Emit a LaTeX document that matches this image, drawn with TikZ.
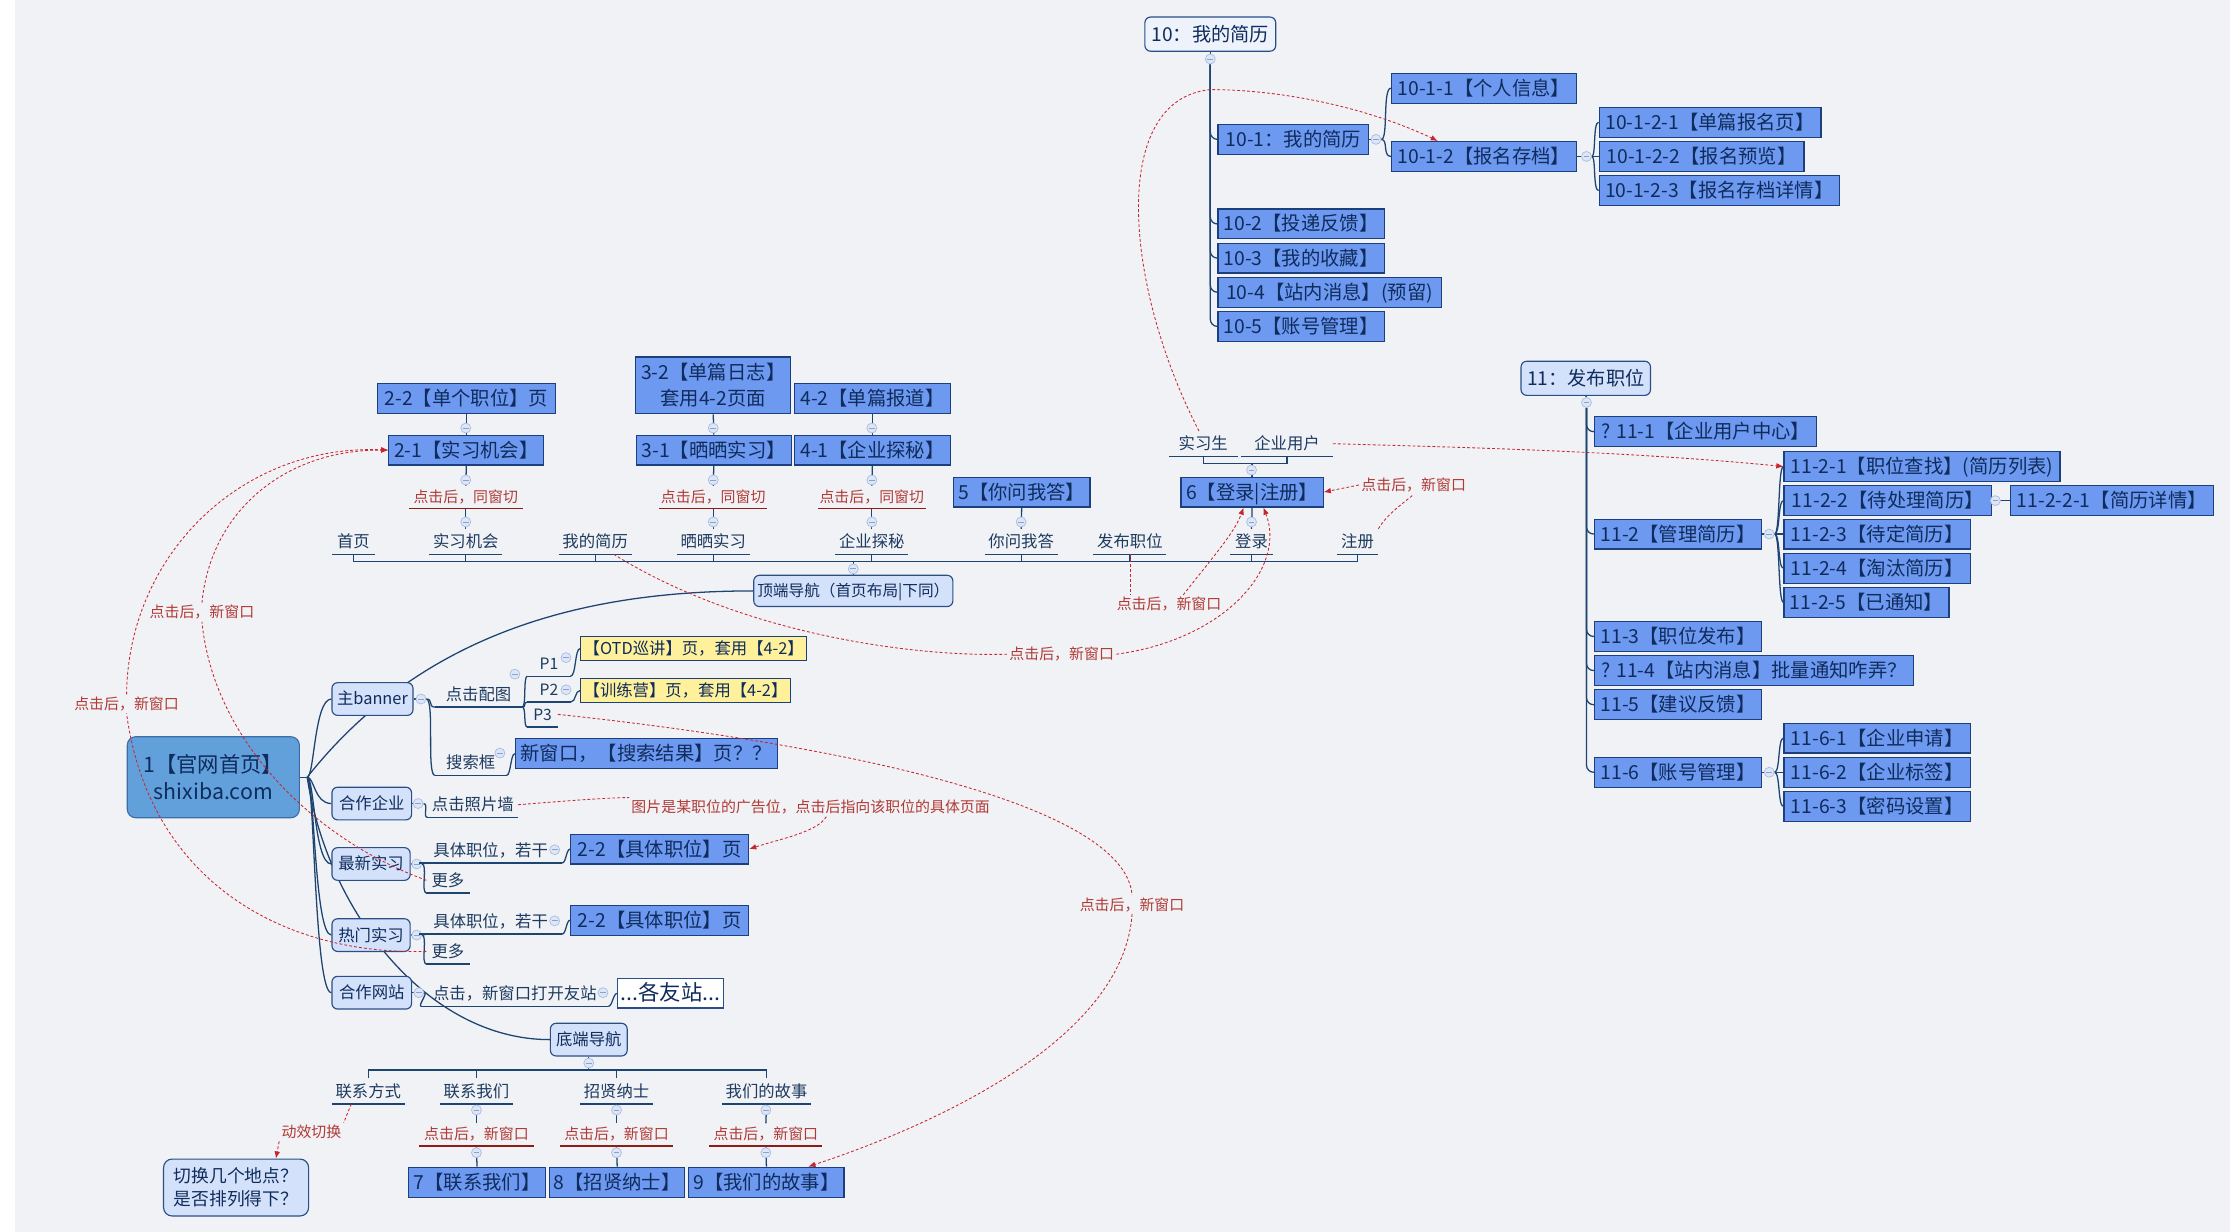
\documentclass[tikz,border=0pt]{standalone}
\usepackage{fontspec}
\setmainfont{Noto Sans CJK SC}
\usetikzlibrary{arrows.meta,calc}
\pgfdeclarelayer{back}
\pgfsetlayers{back,main}
\definecolor{bgc}{HTML}{F1F2F6}
\definecolor{navy}{HTML}{1E4471}
\definecolor{bboxf}{HTML}{6E99F1}
\definecolor{bboxd}{HTML}{1C3F7E}
\definecolor{boxtxt}{HTML}{0F2C5C}
\definecolor{lboxf}{HTML}{D4E1FA}
\definecolor{paleboxf}{HTML}{EDF2FB}
\definecolor{lboxd}{HTML}{2A4E85}
\definecolor{rootf}{HTML}{62A0DC}
\definecolor{rootd}{HTML}{3B6EA5}
\definecolor{yelf}{HTML}{FFF09B}
\definecolor{reldash}{HTML}{C6262E}
\definecolor{redtxt}{HTML}{B03A35}
\definecolor{redline}{HTML}{8E1B15}
\definecolor{ultxt}{HTML}{1D3A5F}
\definecolor{foldf}{HTML}{DDE6F6}
\definecolor{foldd}{HTML}{A9BDE0}
\definecolor{foldm}{HTML}{8BA2CC}
\newcommand\fsz[1]{\fontsize{#1}{#1}\selectfont}
\tikzset{
  link/.style={draw=navy, line width=0.9},
  boxcore/.style={draw=bboxd, fill=bboxf, line width=0.8, text=boxtxt, inner xsep=3, inner ysep=0, minimum height=21},
  bbox/.style={boxcore, font=\fsz{13.6}, text height=11.7, text depth=1.9},
  lcore/.style={draw=lboxd, fill=lboxf, rounded corners=4, line width=0.8, text=boxtxt, inner xsep=2, inner ysep=0},
  lbox/.style={lcore, font=\fsz{11.5}, text height=9.9, text depth=1.6, minimum height=23},
  ybox/.style={draw=bboxd, fill=yelf, line width=0.8, text=boxtxt, font=\fsz{11.5}, text height=9.9, text depth=1.6, inner xsep=2, inner ysep=0, minimum height=17},
  ul/.style={text=ultxt, font=\fsz{11.5}, text height=9.9, text depth=1.6, inner xsep=1, inner ysep=3},
  ulline/.style={draw=navy, line width=0.9},
  rl/.style={text=redtxt, font=\fsz{10.5}, text height=9, text depth=1.5, inner xsep=1, inner ysep=2.5},
  rlline/.style={draw=redline, line width=1},
  rlab/.style={text=redtxt, font=\fsz{10.5}, inner sep=1.5},
  rel/.style={draw=reldash, line width=0.6, dash pattern=on 2pt off 1.5pt},
  relarrow/.style={rel, -{Latex[length=5pt,width=4pt]}},
  fold/.style={circle, minimum size=7, inner sep=0, fill=foldf, draw=foldd, line width=0.5,
    path picture={\draw[foldm, line width=0.6] ($(path picture bounding box.center)+(-2,0)$) -- ++(4,0);}},
}
\newcommand\ulTopic[4]{\node[ul, minimum width=#3] (#1) at (#2) {#4};
  \draw[ulline] (#1.south west) -- (#1.south east);}
\newcommand\redTopic[4]{\node[rl, minimum width=#3] (#1) at (#2) {#4};
  \draw[rlline] (#1.south west) -- (#1.south east);}

\begin{document}
\begin{tikzpicture}[x=1pt,y=-1pt]
\useasboundingbox (0,0) rectangle (1568,866);
\begin{pgfonlayer}{back}
  \fill[white] (0,0) rectangle (1568,866);
  \fill[bgc] (10.5,0) rectangle (1568,866);
\end{pgfonlayer}

% ---------- branch 10: my resume ----------
\node[lcore, fill=paleboxf, font=\fsz{13.5}, text height=11.6, text depth=1.9, minimum width=92, minimum height=24] (n10) at (851,24) {10：我的简历};
\node[fold] (f10) at (851,41.5) {};
\node[bbox, anchor=west, minimum width=106] (n101) at (856,98) {10-1：我的简历};
\node[fold] (f101) at (967.5,98) {};
\node[bbox, anchor=west, minimum width=130] (n1011) at (978,62) {10-1-1【个人信息】};
\node[bbox, anchor=west, minimum width=130] (n1012) at (978,110) {10-1-2【报名存档】};
\node[fold] (f1012) at (1115.5,110) {};
\node[bbox, anchor=west, minimum width=156] (n10121) at (1124,86) {10-1-2-1【单篇报名页】};
\node[bbox, anchor=west, minimum width=144] (n10122) at (1124,110) {10-1-2-2【报名预览】};
\node[bbox, anchor=west, minimum width=169] (n10123) at (1124,134) {10-1-2-3【报名存档详情】};
\node[bbox, anchor=west, minimum width=117] (n102) at (856,157.5) {10-2【投递反馈】};
\node[bbox, anchor=west, minimum width=117] (n103) at (856,181.5) {10-3【我的收藏】};
\node[bbox, anchor=west, minimum width=157] (n104) at (856,205.5) {10-4【站内消息】(预留)};
\node[bbox, anchor=west, minimum width=117] (n105) at (856,229.5) {10-5【账号管理】};

% ---------- branch 11: post a job ----------
\node[lcore, font=\fsz{13.5}, text height=11.6, text depth=1.9, minimum width=91, minimum height=24] (n11) at (1115,266) {11：发布职位};
\node[fold] (f11) at (1115.5,283) {};
\node[bbox, anchor=west, minimum width=156] (n111) at (1121,303.5) {? 11-1【企业用户中心】};
\node[bbox, anchor=west, minimum width=117] (n112) at (1121,375.5) {11-2【管理简历】};
\node[fold] (f112) at (1244,375.5) {};
\node[bbox, anchor=west, minimum width=194] (n1121) at (1254,328) {11-2-1【职位查找】(简历列表)};
\node[bbox, anchor=west, minimum width=146] (n1122) at (1254,352) {11-2-2【待处理简历】};
\node[fold] (f1122) at (1403,352) {};
\node[bbox, anchor=west, minimum width=143] (n11221) at (1413,352) {11-2-2-1【简历详情】};
\node[bbox, anchor=west, minimum width=131] (n1123) at (1254,375.5) {11-2-3【待定简历】};
\node[bbox, anchor=west, minimum width=131] (n1124) at (1254,399.5) {11-2-4【淘汰简历】};
\node[bbox, anchor=west, minimum width=116] (n1125) at (1254,423.5) {11-2-5【已通知】};
\node[bbox, anchor=west, minimum width=117] (n113) at (1121,447.5) {11-3【职位发布】};
\node[bbox, anchor=west, minimum width=224] (n114) at (1121,471.5) {? 11-4【站内消息】批量通知咋弄？};
\node[bbox, anchor=west, minimum width=117] (n115) at (1121,495.5) {11-5【建议反馈】};
\node[bbox, anchor=west, minimum width=117] (n116) at (1121,543) {11-6【账号管理】};
\node[fold] (f116) at (1244,543) {};
\node[bbox, anchor=west, minimum width=131] (n1161) at (1254,519) {11-6-1【企业申请】};
\node[bbox, anchor=west, minimum width=131] (n1162) at (1254,543) {11-6-2【企业标签】};
\node[bbox, anchor=west, minimum width=131] (n1163) at (1254,567) {11-6-3【密码设置】};

% ---------- top navigation ----------
\node[bbox, anchor=west, minimum width=125] (n22a) at (265,280) {2-2【单个职位】页};
\node[bbox, anchor=west, minimum width=109] (n21) at (273,316.5) {2-1【实习机会】};
\node[boxcore, font=\fontsize{13.6}{18}\selectfont, align=center, minimum width=109, minimum height=40] (n32) at (501.5,271) {3-2【单篇日志】\\套用4-2页面};
\node[bbox, anchor=west, minimum width=109] (n31) at (447,316.5) {3-1【晒晒实习】};
\node[bbox, anchor=west, minimum width=110] (n42) at (558,280) {4-2【单篇报道】};
\node[bbox, anchor=west, minimum width=110] (n41) at (558,316.5) {4-1【企业探秘】};
\node[bbox, anchor=west, minimum width=96] (n5) at (670,346) {5【你问我答】};
\node[bbox, anchor=west, minimum width=100] (n6) at (830,346) {6【登录|注册】};

\redTopic{lab2}{327.5,349.5}{80}{点击后，同窗切}
\redTopic{lab3}{501.5,349.5}{75}{点击后，同窗切}
\redTopic{lab4}{613,349.5}{75}{点击后，同窗切}

\ulTopic{nav1}{248.5,380.75}{30}{首页}
\ulTopic{nav2}{327.5,380.75}{51}{实习机会}
\ulTopic{nav3}{418.5,380.75}{51}{我的简历}
\ulTopic{nav4}{501.5,380.75}{51}{晒晒实习}
\ulTopic{nav5}{613,380.75}{51}{企业探秘}
\ulTopic{nav6}{718,380.75}{51}{你问我答}
\ulTopic{nav7}{794.5,380.75}{51}{发布职位}
\ulTopic{nav8}{880,380.75}{30}{登录}
\ulTopic{nav9}{954.5,380.75}{29}{注册}
\ulTopic{stu}{846,312}{48}{实习生}
\ulTopic{ent}{905,312}{64}{企业用户}

\node[lcore, font=\fsz{11}, text height=9.5, text depth=1.5, minimum width=140, minimum height=22] (ntop) at (600,415.5) {顶端导航（首页布局|下同）};

\node[fold] (f22) at (327.5,301) {};
\node[fold] (f21) at (327.5,337.5) {};
\node[fold] (fnav2) at (327.5,367) {};
\node[fold] (f32) at (501.5,301) {};
\node[fold] (f31) at (501.5,337.5) {};
\node[fold] (fnav4) at (501.5,367) {};
\node[fold] (f42) at (613,301) {};
\node[fold] (f41) at (613,337.5) {};
\node[fold] (fnav5) at (613,367) {};
\node[fold] (fnav6) at (718,367) {};
\node[fold] (fnav8) at (880,367) {};
\node[fold] (f6up) at (880,330.5) {};
\node[fold] (ftop) at (600,400) {};

% ---------- home page and its blocks ----------
\node[lcore, fill=rootf, draw=rootd, font=\fontsize{15}{19}\selectfont, align=center, minimum width=121, minimum height=57, rounded corners=6] (root) at (150,546.5) {1【官网首页】\\shixiba.com};
\coordinate (rj) at (216,546.5);
\node[lbox, anchor=west, minimum width=57] (nbanner) at (233,491.5) {主banner};
\node[lbox, anchor=west, minimum width=56] (ncoop) at (233,565) {合作企业};
\node[lbox, anchor=west, minimum width=55] (nnew) at (233,607.5) {最新实习};
\node[lbox, anchor=west, minimum width=55] (nhot) at (233,657.5) {热门实习};
\node[lbox, anchor=west, minimum width=56] (nsite) at (233,698) {合作网站};
\node[fold] (fbanner) at (296,491.5) {};
\node[fold] (fcoop) at (294,565) {};
\node[fold] (fnew) at (293,607.5) {};
\node[fold] (fhot) at (293,657.5) {};
\node[fold] (fsite) at (294.5,698) {};

\ulTopic{uclick}{336.5,488.25}{61}{点击配图}
\ulTopic{usearch}{331,536.25}{50}{搜索框}
\node[fold] (fclick) at (362,474) {};
\ulTopic{P1}{386,466.5}{30}{\fsz{11}P1}
\ulTopic{P2}{386,484.7}{30}{\fsz{11}P2}
\ulTopic{P3}{381.5,502.3}{21}{\fsz{11}P3}
\node[fold] (fP1) at (398,462.4) {};
\node[fold] (fP2) at (398,485) {};
\node[ybox, anchor=west, minimum width=152] (nOTD) at (408,456) {【OTD巡讲】页，套用【4-2】};
\node[ybox, anchor=west, minimum width=141] (nTrain) at (408,485.5) {【训练营】页，套用【4-2】};
\node[fold] (fsearch) at (351.5,529.5) {};
\node[bbox, anchor=west, minimum width=184] (nsearch) at (362,530) {新窗口，【搜索结果】页？？};

\ulTopic{ucoop}{332.5,565.85}{63}{点击照片墙}

\ulTopic{unew1}{345,597.85}{100}{具体职位，若干}
\node[fold] (fnew1) at (390,597.5) {};
\node[bbox, anchor=west, minimum width=125] (njob1) at (401,597) {2-2【具体职位】页};
\ulTopic{unew2}{315,618.95}{30}{更多}
\ulTopic{uhot1}{345,647.85}{100}{具体职位，若干}
\node[fold] (fhot1) at (390,647.5) {};
\node[bbox, anchor=west, minimum width=125] (njob2) at (401,647) {2-2【具体职位】页};
\ulTopic{uhot2}{315,668.95}{30}{更多}

\ulTopic{usite}{362,698.65}{131}{点击，新窗口打开友站}
\node[fold] (fsite1) at (424,698) {};
\node[lcore, fill=white, rounded corners=0, font=\fsz{15}, text height=12.5, text depth=2.5, minimum width=70, minimum height=20.5, anchor=west] (nsites) at (434,698.5) {...各友站...};

% ---------- bottom navigation ----------
\node[lbox, minimum width=54] (nbottom) at (414,731) {底端导航};
\node[fold] (fbot) at (414,747.5) {};
\ulTopic{b1}{259,767.25}{51}{联系方式}
\ulTopic{b2}{335,767.25}{51}{联系我们}
\ulTopic{b3}{433.5,767.25}{51}{招贤纳士}
\ulTopic{b4}{539,767.25}{62}{我们的故事}
\redTopic{blab2}{335,797.75}{80}{点击后，新窗口}
\redTopic{blab3}{433.5,797.75}{79}{点击后，新窗口}
\redTopic{blab4}{538.5,797.75}{79}{点击后，新窗口}
\node[fold] (fb2a) at (335,780.5) {};
\node[fold] (fb2b) at (335,810.5) {};
\node[fold] (fb3a) at (433.5,780.5) {};
\node[fold] (fb3b) at (433.5,810.5) {};
\node[fold] (fb4a) at (538.5,780.5) {};
\node[fold] (fb4b) at (538.5,810.5) {};
\node[bbox, anchor=west, minimum width=96] (n7) at (287,831.2) {7【联系我们】};
\node[bbox, anchor=west, minimum width=95] (n8) at (386,831.2) {8【招贤纳士】};
\node[bbox, anchor=west, minimum width=109] (n9) at (484,831.2) {9【我们的故事】};
\node[lcore, font=\fontsize{12.5}{16}\selectfont, align=center, minimum width=102, minimum height=40, rounded corners=6] (nswitch) at (166,835) {切换几个地点？\\是否排列得下？};

% ---------- relation labels ----------
\node[rlab] (labA) at (89,495) {点击后，新窗口};
\node[rlab] (labB) at (142,430.5) {点击后，新窗口};
\node[rlab] (labC) at (746.5,460) {点击后，新窗口};
\node[rlab] (labD) at (822,425) {点击后，新窗口};
\node[rlab] (labE) at (994,341) {点击后，新窗口};
\node[rlab] (labF) at (570,567.5) {图片是某职位的广告位，点击后指向该职位的具体页面};
\node[rlab] (labG) at (796,636) {点击后，新窗口};
\node[rlab] (labH) at (219,796) {动效切换};

% ---------- tree connectors ----------
\begin{pgfonlayer}{back}
  % branch 10
  \draw[link] (n10.south) -- (f10.north);
  \foreach \c in {n101,n102,n103,n104,n105}
    \draw[link, rounded corners=5] (f10.south) |- (\c.west);
  \draw[link] (n101.east) -- (f101.west);
  \foreach \c in {n1011,n1012}
    \draw[link] (f101.east) .. controls +(5,0) and +(-6,0) .. (\c.west);
  \draw[link] (n1012.east) -- (f1012.west);
  \foreach \c in {n10121,n10122,n10123}
    \draw[link] (f1012.east) .. controls +(3,0) and +(-4,0) .. (\c.west);
  % branch 11
  \draw[link] (n11.south) -- (f11.north);
  \foreach \c in {n111,n112,n113,n114,n115,n116}
    \draw[link, rounded corners=5] (f11.south) |- (\c.west);
  \draw[link] (n112.east) -- (f112.west);
  \foreach \c in {n1121,n1122,n1123,n1124,n1125}
    \draw[link] (f112.east) .. controls +(4,0) and +(-4,0) .. (\c.west);
  \draw[link] (n1122.east) -- (n11221.west);
  \draw[link] (n116.east) -- (f116.west);
  \foreach \c in {n1161,n1162,n1163}
    \draw[link] (f116.east) .. controls +(4,0) and +(-4,0) .. (\c.west);
  % top navigation
  \draw[link] (n22a.south) -- (n21.north);
  \draw[link] (n21.south) -- (lab2.north);
  \draw[link] (lab2.south) -- (nav2.north);
  \draw[link] (n32.south) -- (n31.north);
  \draw[link] (n31.south) -- (lab3.north);
  \draw[link] (lab3.south) -- (nav4.north);
  \draw[link] (n42.south) -- (n41.north);
  \draw[link] (n41.south) -- (lab4.north);
  \draw[link] (lab4.south) -- (nav5.north);
  \draw[link] (n5.south) -- (nav6.north);
  \draw[link] (n6.south) -- (nav8.north);
  \draw[link] (n6.north) -- (n6.north |- 0,326);
  \draw[link] (stu.south) -- (stu.south |- 0,326) -- (ent.south |- 0,326) -- (ent.south);
  \draw[link] (nav1.south |- 0,395) -- (nav9.south |- 0,395);
  \foreach \n in {nav1,nav2,nav3,nav4,nav5,nav6,nav7,nav8,nav9}
    \draw[link] (\n.south) -- (\n.south |- 0,395);
  \draw[link] (ntop.north) -- (ntop.north |- 0,395);
  % home page
  \draw[link] (root.east) -- (rj);
  \foreach \c in {nbanner,ncoop,nnew,nhot,nsite}
    \draw[link] (rj) .. controls +(5,0) and +(-12,0) .. (\c.west);
  \draw[link] (rj) .. controls (300,440) and (420,415.5) .. (ntop.west);
  \draw[link] (rj) .. controls (230,640) and (300,731) .. (nbottom.west);
  \draw[link] (nbanner.east) -- (fbanner.west);
  \draw[link] (fbanner.east) .. controls +(5,0) and +(-5,0) .. (uclick.south west);
  \draw[link] (fbanner.east) .. controls +(6,0) and +(-6,0) .. (usearch.south west);
  \foreach \p in {P1,P2,P3}
    \draw[link] (uclick.south east) .. controls +(3,0) and +(-3,0) .. (\p.south west);
  \draw[link] (P1.south east) .. controls +(4,0) and +(-4,0) .. (nOTD.west);
  \draw[link] (P2.south east) .. controls +(4,0) and +(-4,0) .. (nTrain.west);
  \draw[link] (usearch.south east) .. controls +(3,0) and +(-3,0) .. (nsearch.west);
  \draw[link] (ncoop.east) -- (fcoop.west);
  \draw[link] (fcoop.east) .. controls +(4,0) and +(-4,0) .. (ucoop.south west);
  \draw[link] (nnew.east) -- (fnew.west);
  \draw[link] (fnew.east) .. controls +(3,0) and +(-3,0) .. (unew1.south west);
  \draw[link] (fnew.east) .. controls +(4,0) and +(-4,0) .. (unew2.south west);
  \draw[link] (unew1.south east) .. controls +(3,0) and +(-3,0) .. (njob1.west);
  \draw[link] (nhot.east) -- (fhot.west);
  \draw[link] (fhot.east) .. controls +(3,0) and +(-3,0) .. (uhot1.south west);
  \draw[link] (fhot.east) .. controls +(4,0) and +(-4,0) .. (uhot2.south west);
  \draw[link] (uhot1.south east) .. controls +(3,0) and +(-3,0) .. (njob2.west);
  \draw[link] (nsite.east) -- (fsite.west);
  \draw[link] (fsite.east) .. controls +(3,0) and +(-3,0) .. (usite.south west);
  \draw[link] (usite.south east) .. controls +(3,0) and +(-3,0) .. (nsites.west);
  % bottom navigation
  \draw[link] (nbottom.south) -- (nbottom.south |- 0,752.4);
  \draw[link] (b1.north |- 0,752.4) -- (b4.north |- 0,752.4);
  \foreach \b in {b1,b2,b3,b4}
    \draw[link] (\b.north) -- (\b.north |- 0,752.4);
  \draw[link] (b2.south) -- (blab2.north);
  \draw[link] (blab2.south) -- (n7.north);
  \draw[link] (b3.south) -- (blab3.north);
  \draw[link] (blab3.south) -- (n8.north);
  \draw[link] (b4.south) -- (blab4.north);
  \draw[link] (blab4.south) -- (n9.north);
\end{pgfonlayer}

% ---------- relations (dashed red) ----------
\draw[rel] (uhot2.west) .. controls (200,672) and (105,620) .. (labA.south);
\draw[relarrow] (labA.north) .. controls (90,390) and (170,312) .. (n21.west);
\draw[rel] (unew2.west) .. controls (220,590) and (150,520) .. (labB.south);
\draw[relarrow] (labB.north) .. controls (148,360) and (200,316) .. (n21.west);
\draw[rel] ($(nav3.south)+(13,0)$) .. controls (520,445) and (640,462) .. (labC.west);
\draw[relarrow] (labC.east) .. controls (860,450) and (905,400) .. ($(n6.south)+(8,0)$);
\draw[rel] (nav7.south) -- (nav7.south |- labD.north);
\draw[relarrow] ($(labD.north)+(10,0)$) .. controls (850,395) and (868,375) .. ($(n6.south)+(-6,0)$);
\draw[rel] (nav9.north east) .. controls (975,362) and (985,355) .. (labE.south);
\draw[relarrow] (labE.west) -- (n6.east);
\draw[rel] (ucoop.east) .. controls (400,563) and (425,561) .. (labF.north west);
\draw[relarrow] ($(labF.south)+(11,0)$) .. controls (575,585) and (548,590) .. (njob1.east);
\draw[rel] (P3.east) .. controls (560,520) and (790,560) .. (labG.north);
\draw[relarrow] (labG.south) .. controls (790,730) and (660,790) .. ($(n9.north)+(29.5,0)$);
\draw[rel] ($(b1.south)+(-12,0)$) -- (labH.north east);
\draw[relarrow] (labH.south west) -- ($(nswitch.north)+(28,0)$);
\draw[relarrow] ($(stu.north)+(-3,0)$) .. controls (790,200) and (780,70) .. (851,63) .. controls (900,63) and (960,75) .. ($(n1012.north west)+(33,0)$);
\draw[relarrow] (ent.east) .. controls (1050,315) and (1150,318) .. (n1121.west);
\end{tikzpicture}
\end{document}
